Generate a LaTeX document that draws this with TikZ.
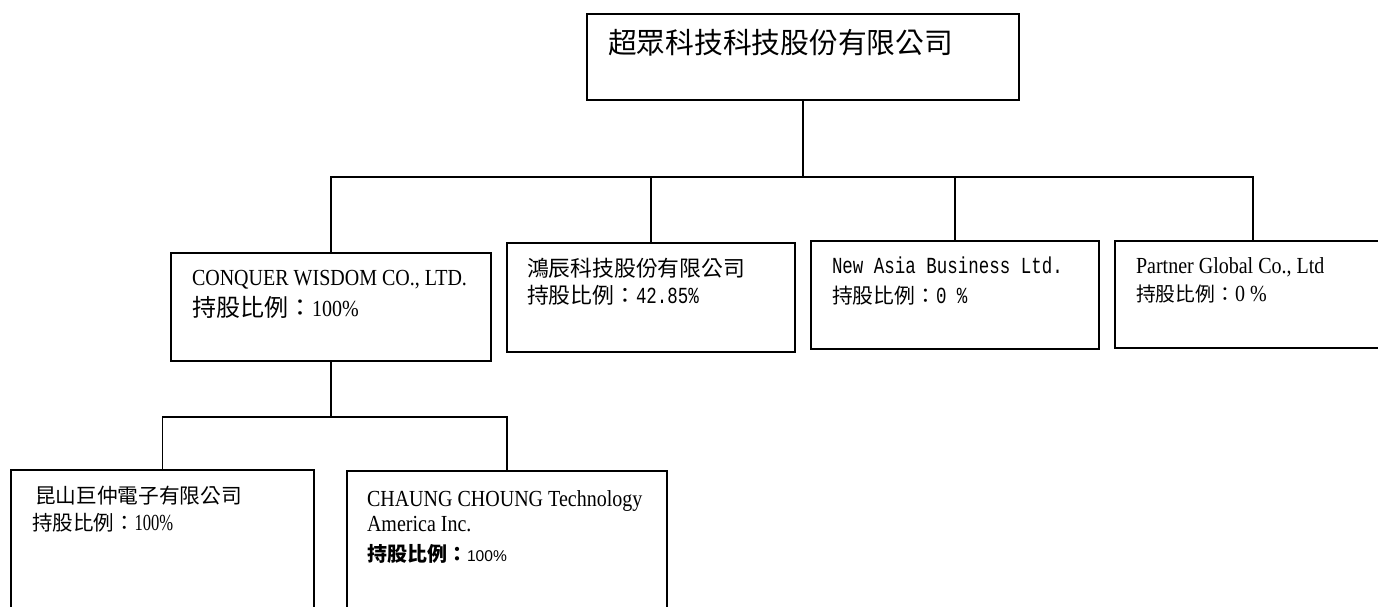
\documentclass[tikz,border=0pt]{standalone}
\usepackage{fontspec}
\setmainfont{Liberation Serif}
\newfontfamily\cjk{Noto Sans CJK TC}
\newfontfamily\tnr[FakeStretch=0.87]{Liberation Serif}
\newfontfamily\tnrc[FakeStretch=0.72]{Liberation Serif}
\newfontfamily\mono[FakeStretch=0.76]{Liberation Mono}
\newfontfamily\arial{Liberation Sans}
\newcommand\setfs[1]{\fontsize{#1pt}{#1pt}\selectfont}
\tikzset{
  box/.style={draw, line width=1.6pt, rectangle, inner sep=0pt, outer sep=0pt, anchor=north west},
  conn/.style={line width=1.6pt},
  lbl/.style={anchor=base west, inner sep=0pt, outer sep=0pt},
}
\begin{document}
\begin{tikzpicture}[x=1pt,y=-1pt]
\useasboundingbox (0,0) rectangle (1378,606);
\clip (0,0) rectangle (1378,606);
\fill[white] (0,0) rectangle (1378,606);

% boxes
\node[box, minimum width=432pt, minimum height=86pt] (top) at (587,14) {};
\node[box, minimum width=320pt, minimum height=108pt] (cw) at (171,253) {};
\node[box, minimum width=288pt, minimum height=109pt] (hc) at (507,243) {};
\node[box, minimum width=288pt, minimum height=108pt] (na) at (811,241) {};
\node[box, minimum width=276pt, minimum height=107pt] (pg) at (1115,241) {};
\node[box, minimum width=303pt, minimum height=170pt] (ks) at (11,470) {};
\node[box, minimum width=320pt, minimum height=170pt] (cc) at (347,471) {};

% connectors
\coordinate (busA) at (0,177);
\coordinate (busB) at (0,417);
\draw[conn] (top.south) -- (top.south |- busA);
\draw[conn] (cw.north) |- (pg.north |- busA) -- (pg.north);
\draw[conn] (hc.north) -- (hc.north |- busA);
\draw[conn] (na.north) -- (na.north |- busA);
\draw[conn] (cw.south) -- (cw.south |- busB);
\draw[conn] (ks.north) |- (cc.north |- busB) -- (cc.north);

% texts
\node[lbl] (t1) at (608,53.5) {\cjk\setfs{28.75}超眾科技科技股份有限公司};

\node[lbl] (cw1) at (192,285) {\tnr\setfs{23}CONQUER WISDOM CO., LTD.};
\node[lbl] (cw2) at (192,316) {\cjk\setfs{24}持股比例：\tnr\setfs{23}100\%};

\node[lbl] (hc1) at (527,276) {\cjk\setfs{21.8}鴻辰科技股份有限公司};
\node[lbl] (hc2) at (527,303) {\cjk\setfs{21.8}持股比例：\mono\setfs{23}42.85\%};

\node[lbl] (na1) at (832,273) {\mono\setfs{23}New Asia Business Ltd.};
\node[lbl] (na2) at (832,303) {\cjk\setfs{20.8}持股比例：\mono\setfs{23}0 \%};

\node[lbl] (pg1) at (1136,273) {\tnr\setfs{23}Partner Global Co., Ltd};
\node[lbl] (pg2) at (1136,301) {\cjk\setfs{19.8}持股比例：\tnr\setfs{23}0 \%};

\node[lbl] (ks1) at (35,503) {\cjk\setfs{20.7}昆山巨仲電子有限公司};
\node[lbl] (ks2) at (32,530) {\cjk\setfs{20.5}持股比例：\tnrc\setfs{23}100\%};

\node[lbl] (cc1) at (367,506) {\tnr\setfs{23}CHAUNG CHOUNG Technology};
\node[lbl] (cc2) at (367,531) {\tnr\setfs{23}America Inc.};
\node[lbl] (cc3) at (367,561) {\cjk\bfseries\setfs{20}持股比例：\arial\mdseries\setfs{15.6}100\%};
\end{tikzpicture}
\end{document}
